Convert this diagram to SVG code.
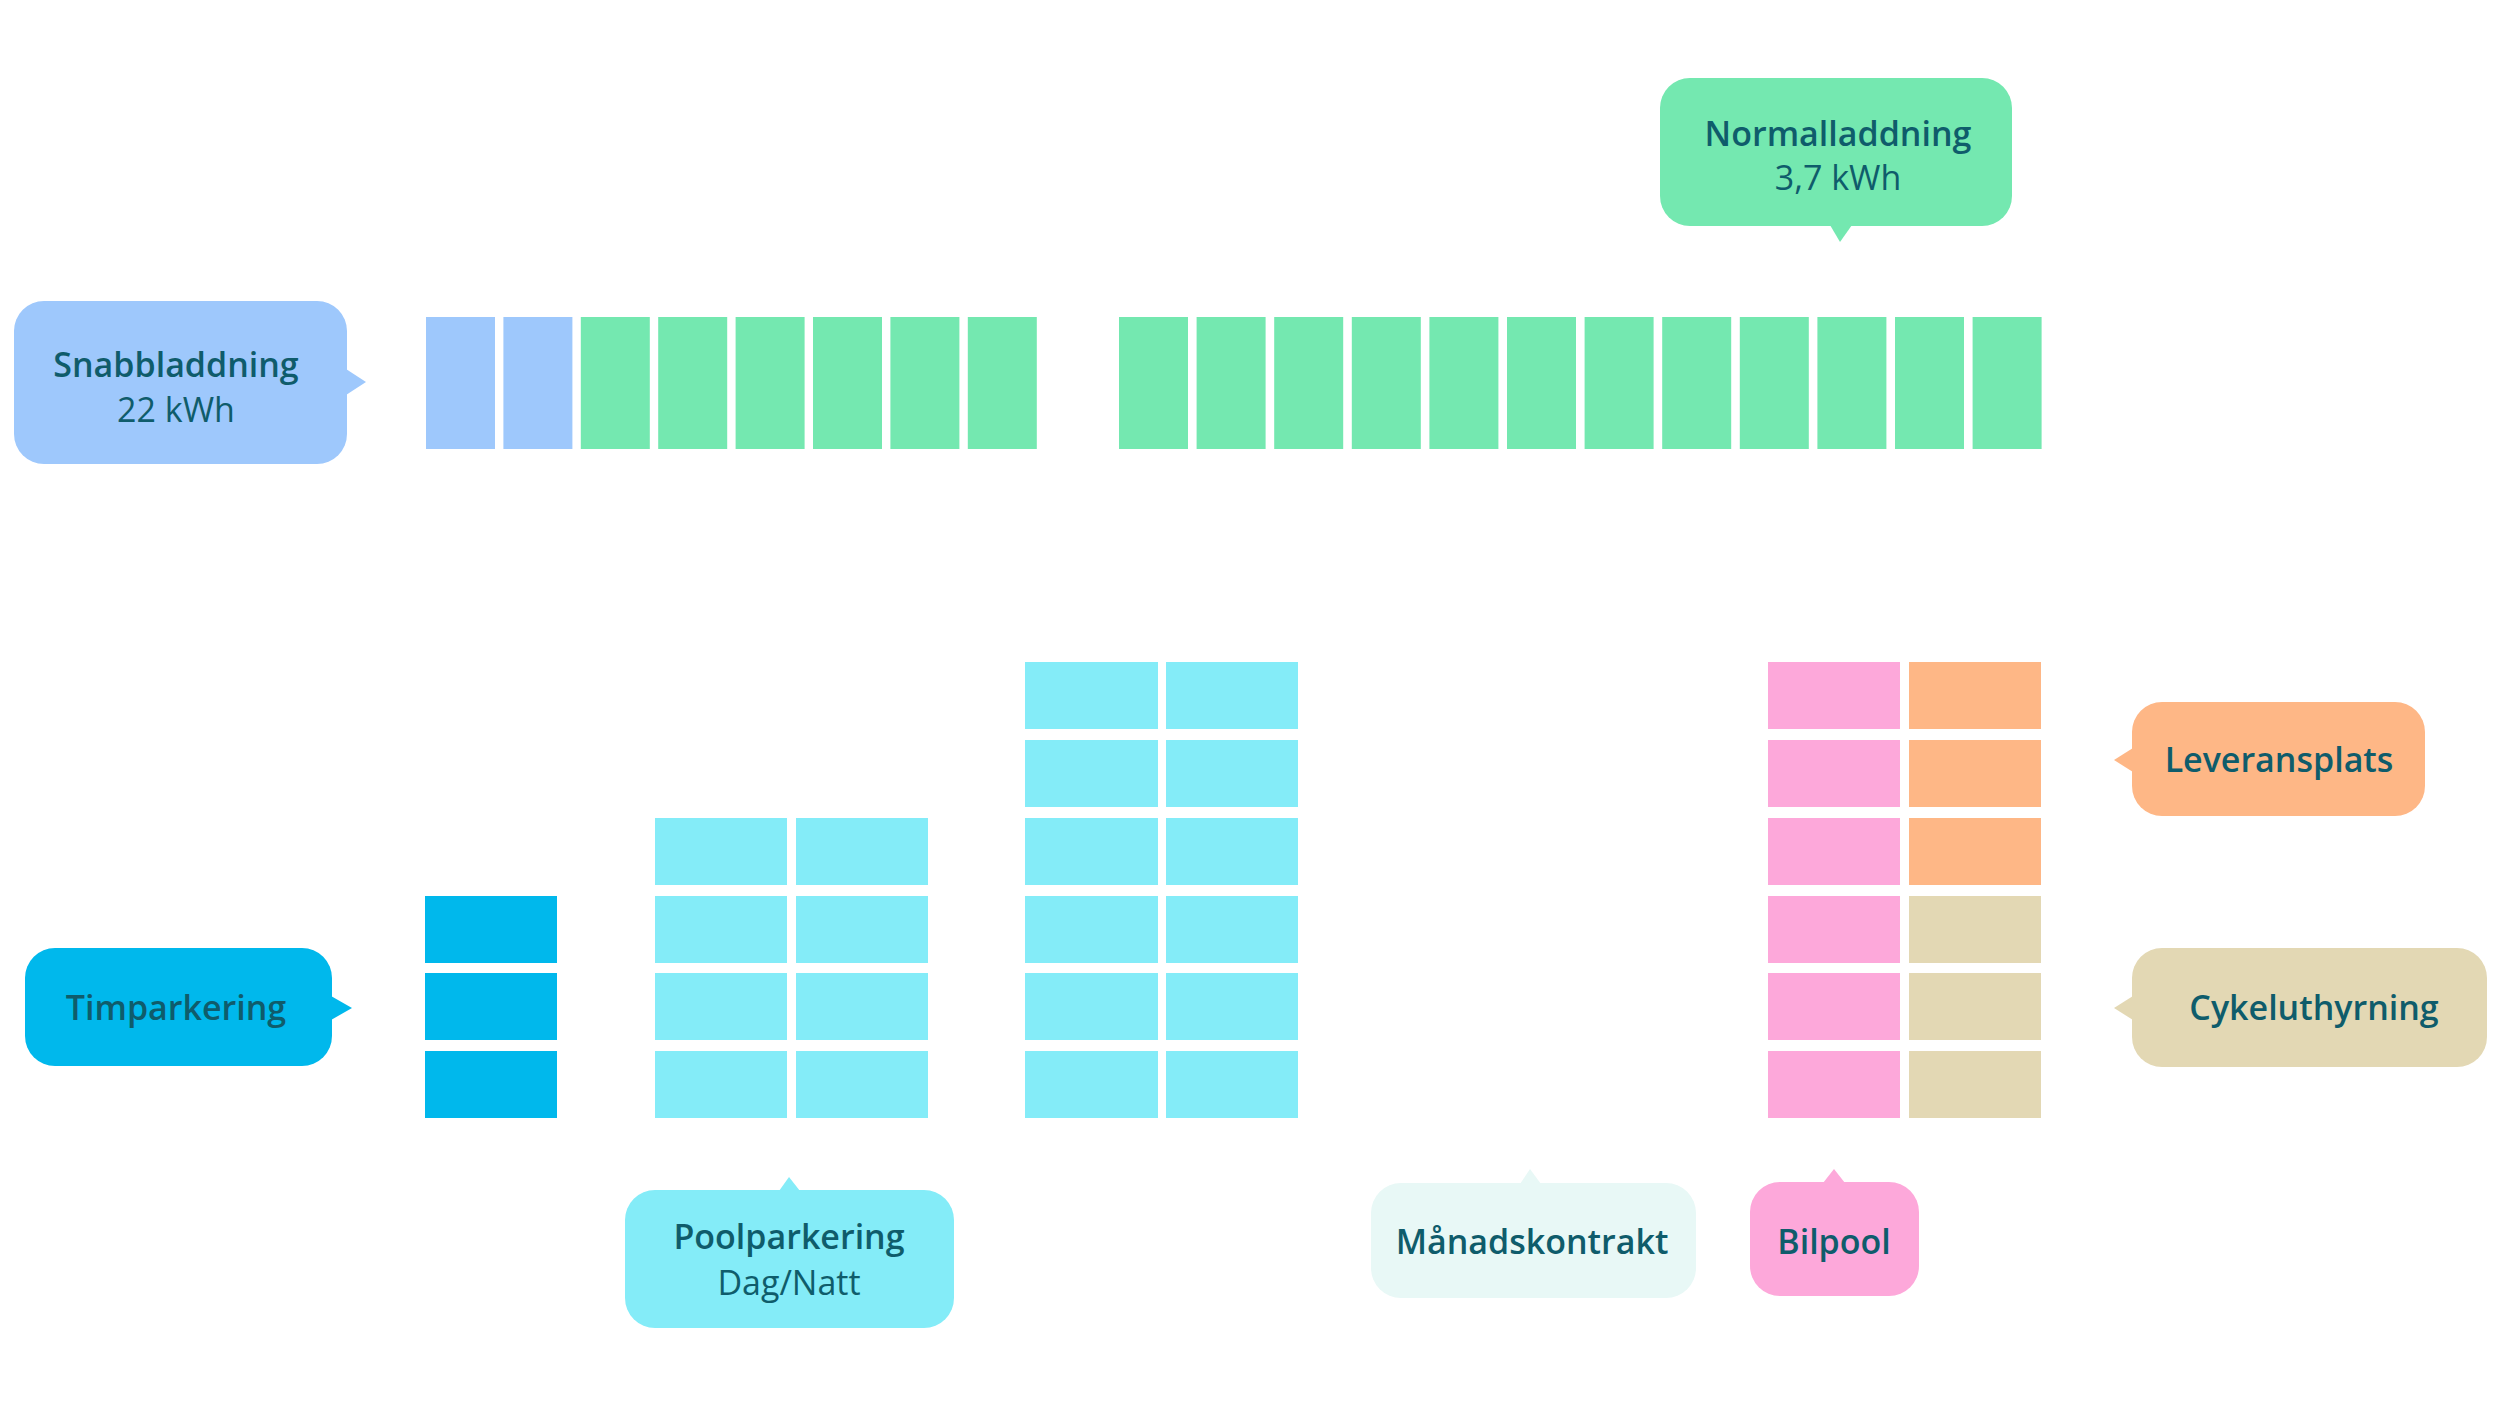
<svg xmlns="http://www.w3.org/2000/svg" width="2500" height="1406" viewBox="0 0 2500 1406">
<style>
  .t { font-family: "Open Sans", "Liberation Sans", sans-serif; font-size: 34px; fill: #0F5C6B; text-anchor: middle; }
  .b { font-weight: 600; }
  .r { font-weight: 500; }
  .blue { fill: #9EC8FC; }
  .green { fill: #74E8B0; }
  .cyan { fill: #00B8EC; }
  .lcyan { fill: #84ECF8; }
  .pink { fill: #FDA8DA; }
  .orange { fill: #FEB786; }
  .beige { fill: #E3D8B4; }
  .mint { fill: #E8F8F6; }
</style>
<rect width="2500" height="1406" fill="#FFFFFF"/>

<g id="charging-row">
  <rect class="blue" x="426" y="317" width="69" height="132"/>
  <rect class="blue" x="503.4" y="317" width="69" height="132"/>
  <rect class="green" x="580.8" y="317" width="69" height="132"/>
  <rect class="green" x="658.2" y="317" width="69" height="132"/>
  <rect class="green" x="735.6" y="317" width="69" height="132"/>
  <rect class="green" x="813" y="317" width="69" height="132"/>
  <rect class="green" x="890.4" y="317" width="69" height="132"/>
  <rect class="green" x="967.8" y="317" width="69" height="132"/>

  <rect class="green" x="1119" y="317" width="69" height="132"/>
  <rect class="green" x="1196.6" y="317" width="69" height="132"/>
  <rect class="green" x="1274.2" y="317" width="69" height="132"/>
  <rect class="green" x="1351.8" y="317" width="69" height="132"/>
  <rect class="green" x="1429.4" y="317" width="69" height="132"/>
  <rect class="green" x="1507" y="317" width="69" height="132"/>
  <rect class="green" x="1584.6" y="317" width="69" height="132"/>
  <rect class="green" x="1662.2" y="317" width="69" height="132"/>
  <rect class="green" x="1739.8" y="317" width="69" height="132"/>
  <rect class="green" x="1817.4" y="317" width="69" height="132"/>
  <rect class="green" x="1895" y="317" width="69" height="132"/>
  <rect class="green" x="1972.6" y="317" width="69" height="132"/>
</g>

<g id="timparkering-column">
  <rect class="cyan" x="425" y="896" width="132" height="67"/>
  <rect class="cyan" x="425" y="973" width="132" height="67"/>
  <rect class="cyan" x="425" y="1051" width="132" height="67"/>
</g>

<g id="poolparkering-columns">
  <rect class="lcyan" x="655" y="818" width="132" height="67"/>
  <rect class="lcyan" x="655" y="896" width="132" height="67"/>
  <rect class="lcyan" x="655" y="973" width="132" height="67"/>
  <rect class="lcyan" x="655" y="1051" width="132" height="67"/>
  <rect class="lcyan" x="796" y="818" width="132" height="67"/>
  <rect class="lcyan" x="796" y="896" width="132" height="67"/>
  <rect class="lcyan" x="796" y="973" width="132" height="67"/>
  <rect class="lcyan" x="796" y="1051" width="132" height="67"/>
</g>

<g id="tall-columns">
  <rect class="lcyan" x="1025" y="662" width="133" height="67"/>
  <rect class="lcyan" x="1025" y="740" width="133" height="67"/>
  <rect class="lcyan" x="1025" y="818" width="133" height="67"/>
  <rect class="lcyan" x="1025" y="896" width="133" height="67"/>
  <rect class="lcyan" x="1025" y="973" width="133" height="67"/>
  <rect class="lcyan" x="1025" y="1051" width="133" height="67"/>
  <rect class="lcyan" x="1166" y="662" width="132" height="67"/>
  <rect class="lcyan" x="1166" y="740" width="132" height="67"/>
  <rect class="lcyan" x="1166" y="818" width="132" height="67"/>
  <rect class="lcyan" x="1166" y="896" width="132" height="67"/>
  <rect class="lcyan" x="1166" y="973" width="132" height="67"/>
  <rect class="lcyan" x="1166" y="1051" width="132" height="67"/>
</g>

<g id="bilpool-column">
  <rect class="pink" x="1768" y="662" width="132" height="67"/>
  <rect class="pink" x="1768" y="740" width="132" height="67"/>
  <rect class="pink" x="1768" y="818" width="132" height="67"/>
  <rect class="pink" x="1768" y="896" width="132" height="67"/>
  <rect class="pink" x="1768" y="973" width="132" height="67"/>
  <rect class="pink" x="1768" y="1051" width="132" height="67"/>
</g>

<g id="leverans-cykel-column">
  <rect class="orange" x="1909" y="662" width="132" height="67"/>
  <rect class="orange" x="1909" y="740" width="132" height="67"/>
  <rect class="orange" x="1909" y="818" width="132" height="67"/>
  <rect class="beige" x="1909" y="896" width="132" height="67"/>
  <rect class="beige" x="1909" y="973" width="132" height="67"/>
  <rect class="beige" x="1909" y="1051" width="132" height="67"/>
</g>

<g id="connectors"></g>

<g id="snabbladdning">
  <rect class="blue" x="14" y="301" width="333" height="163" rx="30"/>
  <polygon class="blue" points="346,369 366,382 346,395"/>
  <text class="t b" x="176" y="377">Snabbladdning</text>
  <text class="t r" x="176" y="422">22 kWh</text>
</g>

<g id="normalladdning">
  <rect class="green" x="1660" y="78" width="352" height="148" rx="30"/>
  <polygon class="green" points="1830,225 1840,242 1852,225"/>
  <text class="t b" x="1838" y="146">Normalladdning</text>
  <text class="t r" x="1838" y="190">3,7 kWh</text>
</g>

<g id="timparkering">
  <rect class="cyan" x="25" y="948" width="307" height="118" rx="30"/>
  <polygon class="cyan" points="331,996 352,1008 331,1020"/>
  <text class="t b" x="176" y="1020">Timparkering</text>
</g>

<g id="leveransplats">
  <rect class="orange" x="2132" y="702" width="293" height="114" rx="30"/>
  <polygon class="orange" points="2133,748 2114,760 2133,772"/>
  <text class="t b" x="2279" y="772">Leveransplats</text>
</g>

<g id="cykeluthyrning">
  <rect class="beige" x="2132" y="948" width="355" height="119" rx="30"/>
  <polygon class="beige" points="2133,996 2114,1008 2133,1020"/>
  <text class="t b" x="2314" y="1020">Cykeluthyrning</text>
</g>

<g id="poolparkering">
  <rect class="lcyan" x="625" y="1190" width="329" height="138" rx="30"/>
  <polygon class="lcyan" points="779,1191 789,1177 800,1191"/>
  <text class="t b" x="789" y="1249">Poolparkering</text>
  <text class="t r" x="789" y="1295">Dag/Natt</text>
</g>

<g id="manadskontrakt">
  <rect class="mint" x="1371" y="1183" width="325" height="115" rx="30"/>
  <polygon class="mint" points="1520,1184 1530,1169 1541,1184"/>
  <text class="t b" x="1532" y="1254">Månadskontrakt</text>
</g>

<g id="bilpool">
  <rect class="pink" x="1750" y="1182" width="169" height="114" rx="30"/>
  <polygon class="pink" points="1823,1183 1834,1169 1845,1183"/>
  <text class="t b" x="1834" y="1254">Bilpool</text>
</g>
</svg>
